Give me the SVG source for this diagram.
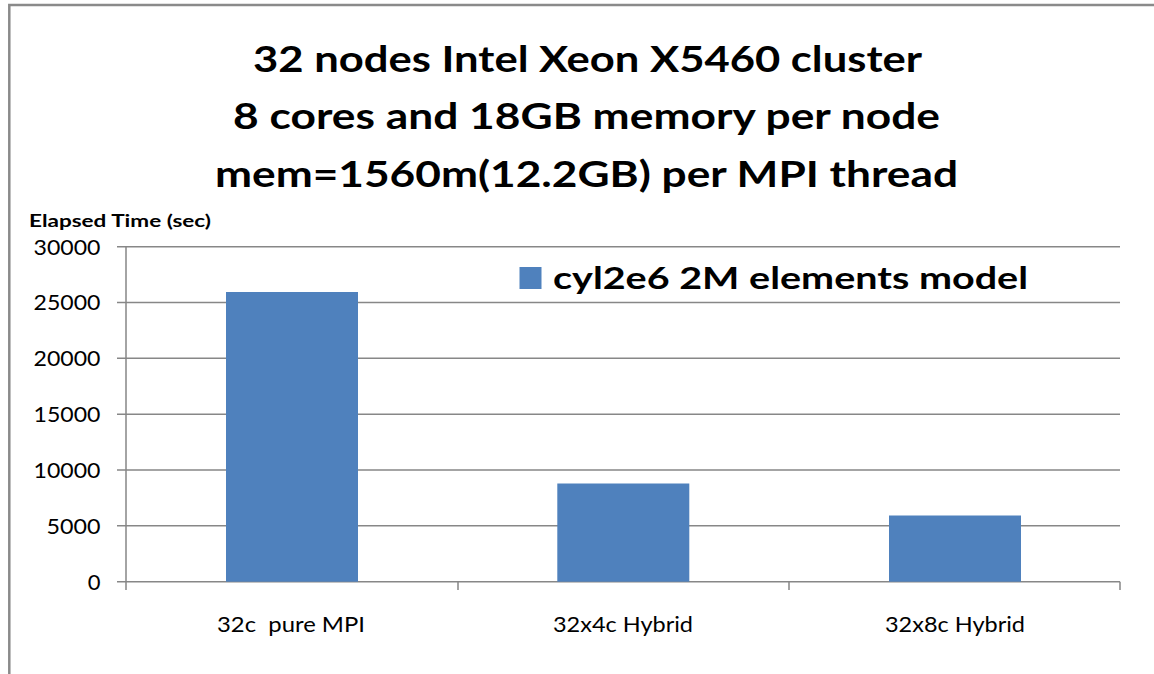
<svg xmlns="http://www.w3.org/2000/svg" width="1154" height="674" viewBox="0 0 1154 674">
  <style>
    .title { font-family: Lato, "Liberation Sans", Arial, sans-serif; font-weight: bold; font-size: 37px; fill: #000; text-anchor: middle; }
    .ylab { font-family: Lato, "Liberation Sans", Arial, sans-serif; font-size: 22px; fill: #000; text-anchor: end; }
    .xlab { font-family: Lato, "Liberation Sans", Arial, sans-serif; font-size: 22px; fill: #000; text-anchor: middle; }
    .axtitle { font-family: Lato, "Liberation Sans", Arial, sans-serif; font-weight: bold; font-size: 16.5px; fill: #000; }
    .legend { font-family: Lato, "Liberation Sans", Arial, sans-serif; font-weight: bold; font-size: 30px; fill: #000; }
    .grid { stroke: #878787; stroke-width: 1.5; fill: none; }
    .bar { fill: #4F81BD; }
  </style>
  <rect x="0" y="0" width="1154" height="674" fill="#ffffff"/>
  <path d="M9.3 674 V5 H1154" fill="none" stroke="#8a8a8a" stroke-width="2.5"/>

  <g id="title">
    <text class="title" x="587.5" y="72" textLength="669" lengthAdjust="spacingAndGlyphs">32 nodes Intel Xeon X5460 cluster</text>
    <text class="title" x="586.5" y="129" textLength="707" lengthAdjust="spacingAndGlyphs">8 cores and 18GB memory per node</text>
    <text class="title" x="586.5" y="187" textLength="743" lengthAdjust="spacingAndGlyphs">mem=1560m(12.2GB) per MPI thread</text>
  </g>

  <g id="axis-title">
    <text class="axtitle" x="29" y="226.5" textLength="182" lengthAdjust="spacingAndGlyphs">Elapsed Time (sec)</text>
  </g>

  <g id="gridlines">
    <path class="grid" d="M117 246.7 H1120 M117 302.5 H1120 M117 358.3 H1120 M117 414.2 H1120 M117 470 H1120 M117 525.8 H1120 M117 581.7 H1120"/>
    <path class="grid" d="M126 246.7 V590 M458 581.7 V590 M789 581.7 V590 M1120 581.7 V590"/>
  </g>

  <g id="y-labels">
    <text class="ylab" x="100.5" y="254.5" textLength="67" lengthAdjust="spacingAndGlyphs">30000</text>
    <text class="ylab" x="100.5" y="310.3" textLength="67" lengthAdjust="spacingAndGlyphs">25000</text>
    <text class="ylab" x="100.5" y="366.1" textLength="67" lengthAdjust="spacingAndGlyphs">20000</text>
    <text class="ylab" x="100.5" y="422" textLength="67" lengthAdjust="spacingAndGlyphs">15000</text>
    <text class="ylab" x="100.5" y="477.8" textLength="67" lengthAdjust="spacingAndGlyphs">10000</text>
    <text class="ylab" x="100.5" y="533.6" textLength="54" lengthAdjust="spacingAndGlyphs">5000</text>
    <text class="ylab" x="100.5" y="589.5">0</text>
  </g>

  <g id="bars">
    <rect id="bar-32c" class="bar" x="226" y="292" width="132" height="289.7"/>
    <rect id="bar-32x4c" class="bar" x="557.3" y="483.5" width="132" height="98.2"/>
    <rect id="bar-32x8c" class="bar" x="889" y="515.5" width="132" height="66.2"/>
  </g>

  <g id="x-labels">
    <text class="xlab" x="291" y="632" textLength="148" lengthAdjust="spacingAndGlyphs" xml:space="preserve">32c  pure MPI</text>
    <text class="xlab" x="623" y="632" textLength="140" lengthAdjust="spacingAndGlyphs">32x4c Hybrid</text>
    <text class="xlab" x="955" y="632" textLength="140" lengthAdjust="spacingAndGlyphs">32x8c Hybrid</text>
  </g>

  <g id="legend">
    <rect class="bar" x="519.5" y="267" width="22" height="22"/>
    <text class="legend" x="553" y="289" textLength="475" lengthAdjust="spacingAndGlyphs">cyl2e6 2M elements model</text>
  </g>
</svg>
